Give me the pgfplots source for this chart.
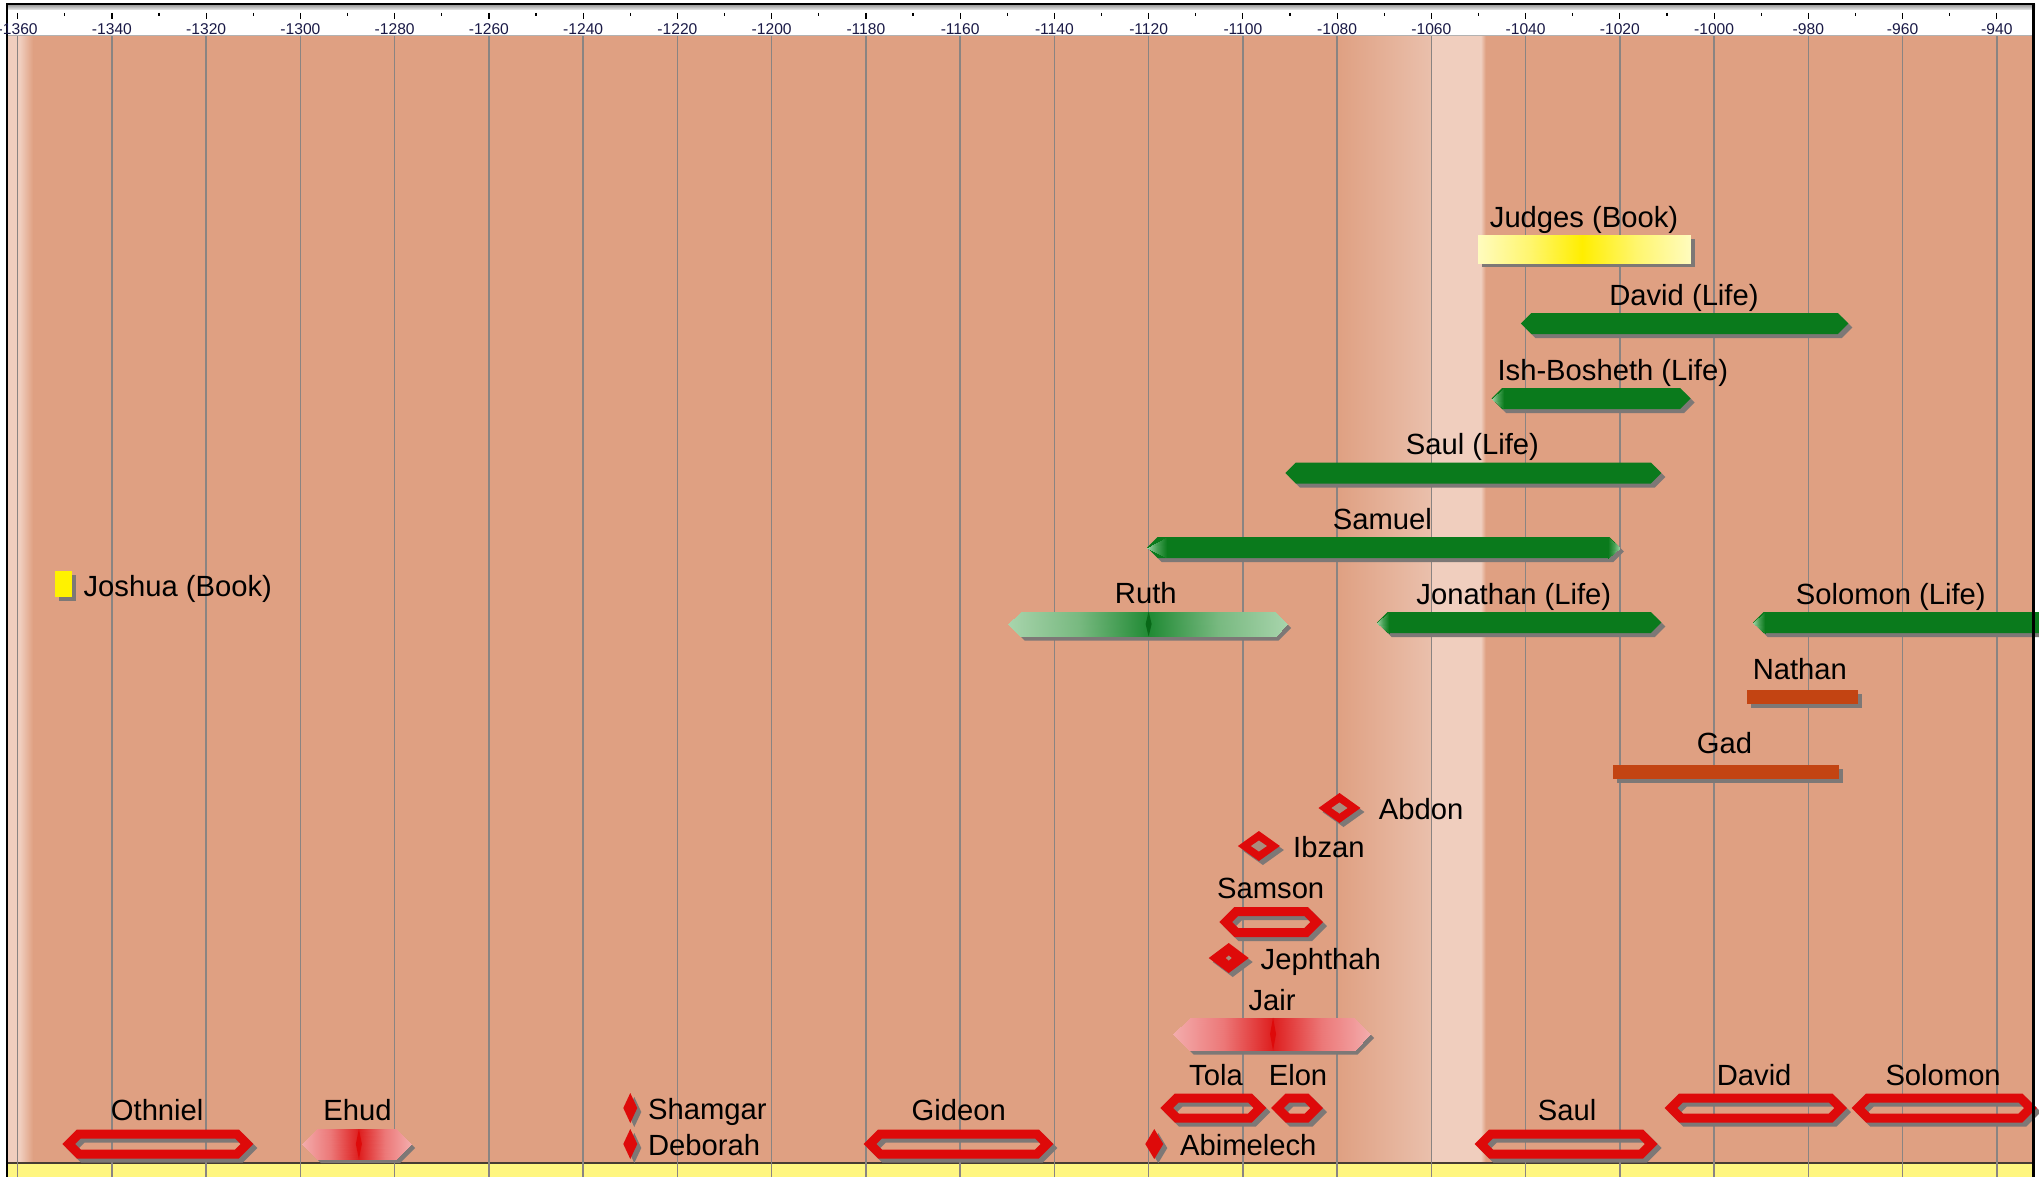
\documentclass[border=0pt]{standalone}
\usepackage{fontspec}
\setmainfont{Liberation Sans}
\usepackage{pgfplots}
\pgfplotsset{compat=1.18}

\definecolor{salmon}{RGB}{223,160,130}
\definecolor{bandlt}{RGB}{240,206,190}
\definecolor{bandmid}{RGB}{234,192,172}
\definecolor{gridc}{RGB}{138,132,130}
\definecolor{grn}{RGB}{10,122,28}
\definecolor{redc}{RGB}{222,10,10}
\definecolor{orng}{RGB}{195,68,18}
\definecolor{shd}{RGB}{125,120,118}
\definecolor{holec}{RGB}{170,140,125}
\definecolor{yelstrip}{RGB}{255,246,128}
\definecolor{tickc}{RGB}{25,25,70}
\definecolor{stripline}{RGB}{70,60,50}

\pgfplotsset{
  colormap={ruthmap}{rgb255=(168,212,172) rgb255=(120,185,128) rgb255=(32,138,52)},
  colormap={redmap}{rgb255=(243,172,172) rgb255=(236,120,120) rgb255=(222,30,30)},
  colormap={yelmap}{rgb255=(255,251,190) rgb255=(255,246,110) rgb255=(255,238,0)},
  colormap={tipmap}{rgb255=(160,210,165) rgb255=(70,160,85) rgb255=(10,122,28)}
}

\tikzset{lbl/.style={font=\fontsize{14.6}{17}\selectfont, inner sep=0pt, text=black}}

% filled hexagon: start end row halfheight(px) options
\newcommand{\hexfill}[5]{%
  \pgfmathsetmacro\hxa{#1}\pgfmathsetmacro\hxb{#1+#4/4.712}%
  \pgfmathsetmacro\hxd{#2}\pgfmathsetmacro\hxc{#2-#4/4.712}%
  \pgfmathsetmacro\hya{#3-#4}\pgfmathsetmacro\hyb{#3+#4}%
  \edef\hextemp{\noexpand\addplot[#5] coordinates {(\hxa,#3) (\hxb,\hya) (\hxc,\hya) (\hxd,#3) (\hxc,\hyb) (\hxb,\hyb)} -- cycle;}\hextemp}
% faded tip: tip-x base-x row halfheight
\newcommand{\tipgrad}[4]{%
  \pgfmathsetmacro\hya{#3-#4}\pgfmathsetmacro\hyb{#3+#4}%
  \edef\hextemp{\noexpand\addplot[patch, shader=interp, point meta=explicit, colormap name=tipmap]
   coordinates {(#1,#3) [0] (#2,\hya) [1] (#2,\hyb) [1]};}\hextemp}
% gradient hexagon (dark at centre): start end row halfheight centre colormap tipfactor
\newcommand{\hexgrad}[7]{%
  \pgfmathsetmacro\hxa{#1}\pgfmathsetmacro\hxb{#1+#7*#4/4.712}%
  \pgfmathsetmacro\hxd{#2}\pgfmathsetmacro\hxc{#2-#7*#4/4.712}%
  \pgfmathsetmacro\hya{#3-#4}\pgfmathsetmacro\hyb{#3+#4}%
  \pgfmathsetmacro\mb{(\hxb-\hxa)/(#5-\hxa)}\pgfmathsetmacro\mc{(\hxd-\hxc)/(\hxd-#5)}%
  \edef\hextemp{\noexpand\addplot[patch, shader=interp, point meta=explicit, colormap name=#6]
   coordinates {(\hxa,#3) [0] (\hxb,\hya) [\mb] (\hxb,\hyb) [\mb]
     (\hxb,\hya) [\mb] (#5,\hya) [1] (#5,\hyb) [1]
     (\hxb,\hya) [\mb] (#5,\hyb) [1] (\hxb,\hyb) [\mb]
     (#5,\hya) [1] (\hxc,\hya) [\mc] (\hxc,\hyb) [\mc]
     (#5,\hya) [1] (\hxc,\hyb) [\mc] (#5,\hyb) [1]
     (\hxd,#3) [0] (\hxc,\hya) [\mc] (\hxc,\hyb) [\mc]};}\hextemp}
% hollow hexagon (stroke 9px): start end row outer-halfheight options
\newcommand{\hexline}[5]{%
  \pgfmathsetmacro\hxa{#1+1.35}\pgfmathsetmacro\hhc{#4-4.5}%
  \pgfmathsetmacro\hxb{\hxa+\hhc/4.712}%
  \pgfmathsetmacro\hxd{#2-1.35}\pgfmathsetmacro\hxc{\hxd-\hhc/4.712}%
  \pgfmathsetmacro\hya{#3-\hhc}\pgfmathsetmacro\hyb{#3+\hhc}%
  \edef\hextemp{\noexpand\addplot[line width=4.5pt, line join=miter, fill=none, #5] coordinates {(\hxa,#3) (\hxb,\hya) (\hxc,\hya) (\hxd,#3) (\hxc,\hyb) (\hxb,\hyb)} -- cycle;}\hextemp}
% diamond: centre row halfwidth(px) halfheight(px) options
\newcommand{\diam}[5]{%
  \pgfmathsetmacro\hxa{#1-#3/4.712}\pgfmathsetmacro\hxb{#1+#3/4.712}%
  \pgfmathsetmacro\hya{#2-#4}\pgfmathsetmacro\hyb{#2+#4}%
  \edef\hextemp{\noexpand\addplot[#5] coordinates {(\hxa,#2) (#1,\hya) (\hxb,#2) (#1,\hyb)} -- cycle;}\hextemp}
% rectangle: start end rowtop rowbottom options
\newcommand{\rbar}[5]{%
  \addplot[#5] coordinates {(#1,#3) (#2,#3) (#2,#4) (#1,#4)} -- cycle;}

\begin{document}
\begin{tikzpicture}[x=1pt,y=1pt]
\path[use as bounding box] (0,0) rectangle (1019.5,588.5);
\fill[white] (0,0) rectangle (1019.5,588.5);
\fill[salmon] (4,7) rectangle (1016,570.5);
\fill[bandlt] (4,7) rectangle (10,570.5);
\shade[left color=bandlt, right color=salmon] (10,7) rectangle (16.5,570.5);
\shade[left color=salmon, right color=bandmid] (668.6,7) rectangle (715.7,570.5);
\fill[bandlt] (715.7,7) rectangle (740.4,570.5);
\shade[left color=bandlt, right color=salmon] (740.4,7) rectangle (742.8,570.5);
\fill[yelstrip] (4,0) rectangle (1016,7);
\draw[line width=0.8pt, stripline] (4,7) -- (1016,7);

\begin{axis}[at={(0pt,0pt)}, anchor=south west, scale only axis,
  width=1019.5pt, height=588.5pt,
  xmin=-1363.756, xmax=-931.03, ymin=0, ymax=1177, y dir=reverse,
  axis line style={draw=none}, tick style={draw=none},
  xtick={-1360,-1340,...,-940}, ytick=\empty, xticklabels={},
  major tick length=0pt, xmajorgrids,
  grid style={gridc, line width=0.75pt},
  point meta min=0, point meta max=1,
  clip=true]

% Judges (Book)
\rbar{-1050}{-1005}{235}{263}{fill=shd, draw=none, xshift=2pt, yshift=-2pt}
\hexgrad{-1050}{-1005}{249}{14}{-1028}{yelmap}{0}
\node[lbl, anchor=base] at (axis cs:-1027.6,227) {Judges (Book)};

% green life bars
\hexfill{-1041}{-971.5}{323.5}{10.5}{fill=shd, draw=none, xshift=2pt, yshift=-2pt}
\hexfill{-1041}{-971.5}{323.5}{10.5}{fill=grn, draw=none}
\node[lbl, anchor=base] at (axis cs:-1006.4,305) {David (Life)};

\hexfill{-1047.2}{-1005}{398.5}{10.5}{fill=shd, draw=none, xshift=2pt, yshift=-2pt}
\hexfill{-1047.2}{-1005}{398.5}{10.5}{fill=grn, draw=none}
\tipgrad{-1047.2}{-1044.6}{398.5}{10.5}
\node[lbl, anchor=base] at (axis cs:-1021.5,380) {Ish-Bosheth (Life)};

\hexfill{-1091}{-1011.2}{473}{10.5}{fill=shd, draw=none, xshift=2pt, yshift=-2pt}
\hexfill{-1091}{-1011.2}{473}{10.5}{fill=grn, draw=none}
\node[lbl, anchor=base] at (axis cs:-1051.3,454.5) {Saul (Life)};

\hexfill{-1120.3}{-1020}{547.5}{10.5}{fill=shd, draw=none, xshift=2pt, yshift=-2pt}
\hexfill{-1120.3}{-1020}{547.5}{10.5}{fill=grn, draw=none}
\tipgrad{-1120.3}{-1116.2}{547.5}{10.5}
\tipgrad{-1020}{-1022.6}{547.5}{10.5}
\node[lbl, anchor=base] at (axis cs:-1070.4,529) {Samuel};

% Joshua (Book)
\rbar{-1352.1}{-1348.5}{571}{597}{fill=shd, draw=none, xshift=2pt, yshift=-2pt}
\rbar{-1352.1}{-1348.5}{571}{597}{fill=yellow, draw=none}
\node[lbl, anchor=base west] at (axis cs:-1346.1,596) {Joshua (Book)};

% Ruth
\hexfill{-1149.8}{-1090.6}{624}{12.5}{fill=shd, draw=none, xshift=2pt, yshift=-2pt}
\hexgrad{-1149.8}{-1090.6}{624}{12.5}{-1120}{ruthmap}{1}
\diam{-1120}{624}{3}{12.5}{fill=grn!85!black, draw=none}
\node[lbl, anchor=base] at (axis cs:-1120.6,603) {Ruth};

\hexfill{-1071.5}{-1011.2}{622.5}{10.5}{fill=shd, draw=none, xshift=2pt, yshift=-2pt}
\hexfill{-1071.5}{-1011.2}{622.5}{10.5}{fill=grn, draw=none}
\tipgrad{-1071.5}{-1068.9}{622.5}{10.5}
\node[lbl, anchor=base] at (axis cs:-1042.5,604) {Jonathan (Life)};

\hexfill{-991.7}{-920}{622.5}{10.5}{fill=shd, draw=none, xshift=2pt, yshift=-2pt}
\hexfill{-991.7}{-920}{622.5}{10.5}{fill=grn, draw=none}
\tipgrad{-991.7}{-989.1}{622.5}{10.5}
\node[lbl, anchor=base] at (axis cs:-962.5,604) {Solomon (Life)};

% prophets
\rbar{-993}{-969.5}{690}{704}{fill=shd, draw=none, xshift=2pt, yshift=-2pt}
\rbar{-993}{-969.5}{690}{704}{fill=orng, draw=none}
\node[lbl, anchor=base] at (axis cs:-981.8,679) {Nathan};

\rbar{-1021.5}{-973.5}{765}{779}{fill=shd, draw=none, xshift=2pt, yshift=-2pt}
\rbar{-1021.5}{-973.5}{765}{779}{fill=orng, draw=none}
\node[lbl, anchor=base] at (axis cs:-997.8,753) {Gad};

% Abdon, Ibzan
\diam{-1079.5}{808}{21}{15}{fill=shd, draw=none, xshift=2pt, yshift=-2pt}
\diam{-1079.5}{808}{21}{15}{fill=redc, draw=none}
\diam{-1079.5}{808}{8}{5.5}{fill=holec, draw=none}
\node[lbl, anchor=base west] at (axis cs:-1071.2,819) {Abdon};

\diam{-1096.6}{846}{21}{15}{fill=shd, draw=none, xshift=2pt, yshift=-2pt}
\diam{-1096.6}{846}{21}{15}{fill=redc, draw=none}
\diam{-1096.6}{846}{8}{5.5}{fill=holec, draw=none}
\node[lbl, anchor=base west] at (axis cs:-1089.4,857) {Ibzan};

% Samson
\hexline{-1105}{-1083}{922}{15}{draw=shd, xshift=2pt, yshift=-2pt}
\hexline{-1105}{-1083}{922}{15}{draw=redc}
\node[lbl, anchor=base] at (axis cs:-1094.1,898) {Samson};

% Jephthah
\diam{-1103}{958}{20}{15}{fill=shd, draw=none, xshift=2pt, yshift=-2pt}
\diam{-1103}{958}{20}{15}{fill=redc, draw=none}
\diam{-1103}{958}{3}{2.5}{fill=holec, draw=none}
\node[lbl, anchor=base west] at (axis cs:-1096.3,969) {Jephthah};

% Jair
\hexfill{-1114.8}{-1073}{1034}{16.5}{fill=shd, draw=none, xshift=2pt, yshift=-2pt}
\hexgrad{-1114.8}{-1073}{1034}{16.5}{-1093.6}{redmap}{1}
\diam{-1093.6}{1034}{3}{16.5}{fill=redc, draw=none}
\node[lbl, anchor=base] at (axis cs:-1093.8,1010) {Jair};

% row of Tola, Elon, David, Solomon
\hexline{-1117.5}{-1095}{1108}{14.5}{draw=shd, xshift=2pt, yshift=-2pt}
\hexline{-1117.5}{-1095}{1108}{14.5}{draw=redc}
\node[lbl, anchor=base] at (axis cs:-1105.7,1085) {Tola};

\hexline{-1094}{-1083}{1108}{14.5}{draw=shd, xshift=2pt, yshift=-2pt}
\hexline{-1094}{-1083}{1108}{14.5}{draw=redc}
\node[lbl, anchor=base] at (axis cs:-1088.3,1085) {Elon};

\hexline{-1010.5}{-971.8}{1108}{14.5}{draw=shd, xshift=2pt, yshift=-2pt}
\hexline{-1010.5}{-971.8}{1108}{14.5}{draw=redc}
\node[lbl, anchor=base] at (axis cs:-991.5,1085) {David};

\hexline{-970.8}{-931.5}{1108}{14.5}{draw=shd, xshift=2pt, yshift=-2pt}
\hexline{-970.8}{-931.5}{1108}{14.5}{draw=redc}
\node[lbl, anchor=base] at (axis cs:-951.4,1085) {Solomon};

\diam{-1230}{1108}{7}{15}{fill=shd, draw=none, xshift=2pt, yshift=-2pt}
\diam{-1230}{1108}{7}{15}{fill=redc, draw=none}
\node[lbl, anchor=base west] at (axis cs:-1226.3,1119) {Shamgar};

% bottom row
\hexline{-1350.5}{-1310}{1144}{14.5}{draw=shd, xshift=2pt, yshift=-2pt}
\hexline{-1350.5}{-1310}{1144}{14.5}{draw=redc}
\node[lbl, anchor=base] at (axis cs:-1330.4,1120) {Othniel};

\hexfill{-1299.7}{-1276.5}{1144}{15}{fill=shd, draw=none, xshift=2pt, yshift=-2pt}
\hexgrad{-1299.7}{-1276.5}{1144}{15}{-1287.6}{redmap}{1}
\diam{-1287.6}{1144}{3}{15}{fill=redc, draw=none}
\node[lbl, anchor=base] at (axis cs:-1287.9,1120) {Ehud};

\diam{-1230}{1144}{7}{15}{fill=shd, draw=none, xshift=2pt, yshift=-2pt}
\diam{-1230}{1144}{7}{15}{fill=redc, draw=none}
\node[lbl, anchor=base west] at (axis cs:-1226.3,1155) {Deborah};

\hexline{-1180.5}{-1140.2}{1144}{14.5}{draw=shd, xshift=2pt, yshift=-2pt}
\hexline{-1180.5}{-1140.2}{1144}{14.5}{draw=redc}
\node[lbl, anchor=base] at (axis cs:-1160.3,1120) {Gideon};

\diam{-1118.8}{1144}{9}{15}{fill=shd, draw=none, xshift=2pt, yshift=-2pt}
\diam{-1118.8}{1144}{9}{15}{fill=redc, draw=none}
\node[lbl, anchor=base west] at (axis cs:-1113.4,1155) {Abimelech};

\hexline{-1050.8}{-1012}{1144}{14.5}{draw=shd, xshift=2pt, yshift=-2pt}
\hexline{-1050.8}{-1012}{1144}{14.5}{draw=redc}
\node[lbl, anchor=base] at (axis cs:-1031.2,1120) {Saul};
\end{axis}

% header band
\fill[white] (0,570.5) rectangle (1019.5,588.5);
\draw[line width=0.6pt, gray!60] (4,570.6) -- (1016,570.6);
\shade[top color=gray!75, bottom color=gray!15] (3,583.5) rectangle (1017.5,586);
\fill[black] (3,586) rectangle (1017.5,587.2);
\fill[black] (3,0) rectangle (4,587);
\fill[black] (1016,0) rectangle (1017.5,587);

\begin{axis}[at={(0pt,577.5pt)}, anchor=south west, scale only axis,
  width=1019.5pt, height=4.5pt,
  xmin=-1363.756, xmax=-931.03, ymin=0, ymax=1,
  axis line style={draw=none}, ytick=\empty,
  xtick={-1360,-1340,...,-940}, minor x tick num=1,
  xtick pos=upper, xticklabel pos=lower, tick align=inside,
  major tick length=3pt, minor tick length=1.5pt,
  tick style={black, line width=0.6pt},
  xticklabel style={font=\fontsize{7.8}{9}\selectfont, text=tickc, inner sep=0pt, anchor=north},
  xticklabel shift=0.6pt,
  /pgf/number format/assume math mode=true,
  /pgf/number format/set thousands separator={}]
\end{axis}
\end{tikzpicture}
\end{document}
